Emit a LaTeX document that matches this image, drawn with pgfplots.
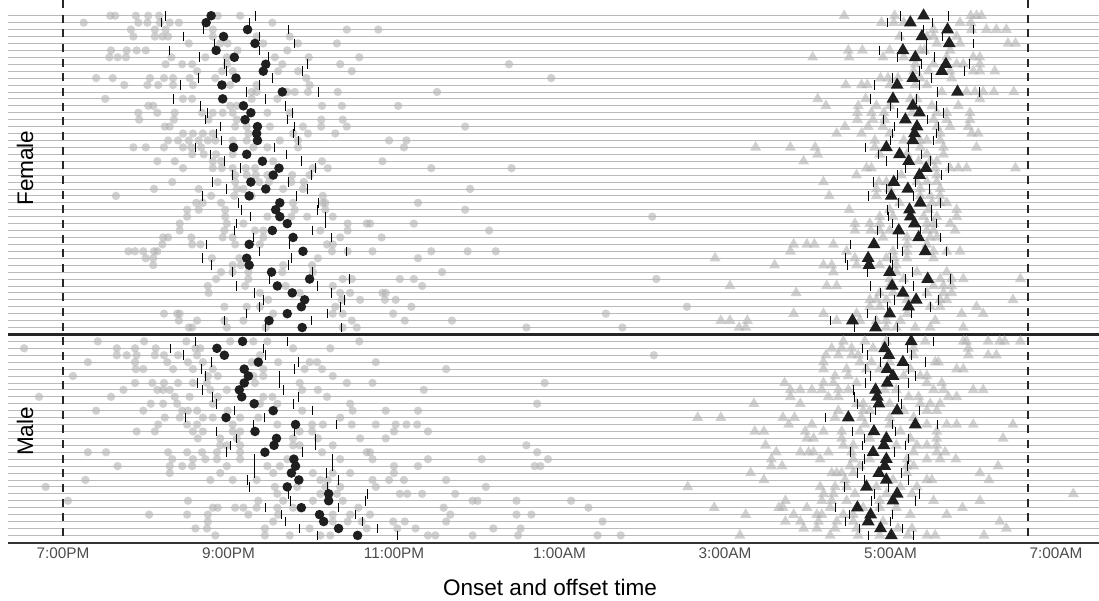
\documentclass[border=0pt]{standalone}
\usepackage{pgfplots}
\pgfplotsset{compat=1.18}
\usepackage{pgfplotstable}
\usepackage{fontspec}
\setmainfont{Liberation Sans}

% per-person summary: onset median + ticks, offset median + ticks
% y = row (female 1-46, male 48-76)
\pgfplotstableread{
y m lo hi M LO HI
1 20.79 20.24 21.33 29.40 29.12 29.70
2 20.73 20.19 21.25 29.24 28.96 29.51
3 21.23 20.70 21.73 29.69 29.40 30.00
4 20.94 20.46 21.38 29.38 29.13 29.63
5 21.32 20.83 21.80 29.71 29.44 30.00
6 20.85 20.29 21.38 29.15 28.87 29.43
7 21.07 20.65 21.48 29.30 29.08 29.53
8 21.45 20.95 21.96 29.67 29.38 29.95
9 21.42 20.98 21.89 29.62 29.35 29.89
10 21.09 20.64 21.53 29.27 29.03 29.50
11 20.92 20.42 21.38 29.08 28.81 29.35
12 21.65 21.22 22.09 29.81 29.57 30.07
13 20.93 20.33 21.45 29.03 28.76 29.32
14 21.18 20.66 21.69 29.27 29.00 29.55
15 21.27 20.74 21.77 29.35 29.08 29.64
16 21.20 20.72 21.71 29.18 28.92 29.45
17 21.35 20.90 21.80 29.32 29.05 29.58
18 21.34 20.86 21.79 29.29 29.02 29.55
19 21.35 20.91 21.84 29.27 29.00 29.52
20 21.06 20.60 21.55 28.95 28.70 29.22
21 21.22 20.78 21.70 29.11 28.86 29.38
22 21.41 20.95 21.88 29.22 28.95 29.48
23 21.61 21.15 22.05 29.43 29.18 29.70
24 21.54 21.05 22.00 29.35 29.08 29.62
25 21.27 20.81 21.73 29.04 28.79 29.30
26 21.45 20.98 21.95 29.21 28.95 29.47
27 21.25 20.68 21.82 29.01 28.74 29.28
28 21.62 21.12 22.09 29.36 29.10 29.60
29 21.57 21.16 22.07 29.23 28.96 29.49
30 21.62 21.27 22.17 29.24 28.98 29.50
31 21.71 21.10 22.17 29.29 29.02 29.56
32 21.53 21.07 22.01 29.10 28.84 29.36
33 21.78 21.30 22.25 29.34 29.08 29.60
34 21.25 20.73 21.74 28.80 28.52 29.08
35 21.90 21.38 22.42 29.42 29.15 29.68
36 21.22 20.68 21.76 28.73 28.46 29.00
37 21.25 20.80 21.72 28.74 28.48 29.02
38 21.52 21.05 22.02 28.99 28.72 29.26
39 21.98 21.50 22.46 29.45 29.18 29.72
40 21.59 21.10 22.08 29.02 28.76 29.28
41 21.77 21.32 22.25 29.15 28.88 29.42
42 21.92 21.42 22.40 29.31 29.05 29.58
43 21.88 21.38 22.35 29.22 28.96 29.48
44 21.71 21.22 22.20 28.99 28.72 29.25
45 21.49 20.95 22.00 28.54 28.28 28.82
46 21.89 21.45 22.37 28.82 28.56 29.09
48 21.17 20.60 21.71 29.25 28.98 29.52
49 20.86 20.30 21.42 28.93 28.66 29.20
50 20.95 20.45 21.45 28.98 28.72 29.25
51 21.36 20.80 21.85 29.15 28.88 29.42
52 21.19 20.67 21.80 28.96 28.70 29.22
53 21.24 20.72 21.62 29.03 28.76 29.30
54 21.19 20.62 21.62 28.96 28.70 29.22
55 21.13 20.68 21.66 28.82 28.55 29.10
56 21.16 20.81 21.84 28.84 28.57 29.10
57 21.31 20.85 21.78 28.86 28.60 29.13
58 21.54 21.07 22.01 29.08 28.82 29.35
59 20.97 20.48 21.44 28.49 28.22 28.76
60 21.81 21.30 22.30 29.30 29.03 29.57
61 21.32 20.85 21.80 28.80 28.54 29.06
62 21.58 21.10 22.05 28.95 28.69 29.22
63 21.55 21.02 22.05 28.92 28.66 29.18
64 21.44 20.97 21.90 28.79 28.52 29.05
65 21.79 21.32 22.26 28.95 28.69 29.22
66 21.81 21.32 22.26 28.93 28.66 29.20
67 21.76 21.31 22.18 28.86 28.60 29.13
68 21.85 21.23 22.33 28.95 28.68 29.22
69 21.71 21.25 22.20 28.71 28.45 28.98
70 22.21 21.72 22.68 29.08 28.81 29.35
71 22.21 21.75 22.65 29.03 28.77 29.30
72 21.88 21.45 22.33 28.60 28.34 28.86
73 22.10 21.64 22.54 28.76 28.50 29.03
74 22.15 21.69 22.62 28.73 28.46 29.00
75 22.33 21.86 22.80 28.88 28.62 29.15
76 22.56 22.07 23.04 29.01 28.74 29.28
}\med

\begin{document}
\begin{tikzpicture}
\path[use as bounding box] (0,0) rectangle (824.25pt,450pt);
\begin{axis}[
    at={(6pt,42.75pt)}, anchor=south west,
    scale only axis, width=818.25pt, height=407.25pt,
    xmin=18.335, xmax=31.52, ymin=-1.27, ymax=77.1, y dir=reverse,
    clip=false,
    axis line style={draw=none},
    major tick length=0pt,
    xtick={19,21,23,25,27,29,31},
    xticklabels={7:00PM,9:00PM,11:00PM,1:00AM,3:00AM,5:00AM,7:00AM},
    xticklabel style={font=\fontsize{11.5}{13}\selectfont, text=black!70},
    ytick={1,...,46,48,49,...,76}, yticklabels={},
    ymajorgrids, grid style={black!27, line width=0.6pt},
]
% nightly onsets (grey dots)
\addplot[only marks, mark=*, mark size=3.15pt, mark options={fill=black!30, fill opacity=0.6, draw opacity=0}] coordinates {
(19.57,1)(19.63,1)(19.88,1)(20.03,1)(20.16,1)(20.87,1)(21.14,1)
(19.25,2)(19.91,2)(20.02,2)(20.17,2)(20.29,2)(20.40,2)(21.53,2)
(19.82,3)(20.11,3)(20.24,3)(20.81,3)(22.43,3)(22.81,3)
(19.85,4)(20.11,4)(20.20,4)(20.27,4)(20.81,4)(21.34,4)(21.74,4)
(20.52,5)(20.90,5)(20.99,5)(21.42,5)(21.84,5)(22.31,5)
(19.58,6)(19.77,6)(19.89,6)(20.00,6)(21.11,6)(21.71,6)
(19.56,7)(19.66,7)(19.76,7)(20.31,7)(20.72,7)(20.98,7)(21.56,7)(21.97,7)(22.58,7)
(20.24,8)(20.44,8)(20.56,8)(20.98,8)(21.65,8)(22.35,8)(24.39,8)
(20.62,9)(20.92,9)(21.05,9)(21.60,9)(21.84,9)(22.49,9)
(19.40,10)(19.60,10)(20.05,10)(20.22,10)(20.33,10)(20.53,10)(20.84,10)(21.94,10)(24.90,10)
(19.74,11)(20.02,11)(20.15,11)(20.33,11)(20.57,11)(21.02,11)(21.34,11)(21.98,11)
(21.28,12)(21.34,12)(21.71,12)(21.80,12)(21.96,12)(22.32,12)(23.52,12)
(19.51,13)(20.45,13)(20.56,13)(21.28,13)(21.59,13)
(20.03,14)(20.09,14)(21.02,14)(21.10,14)(22.13,14)(22.37,14)(23.05,14)
(19.91,15)(20.14,15)(20.35,15)(20.68,15)(20.81,15)(20.93,15)(21.05,15)(21.47,15)(21.74,15)
(19.92,16)(20.34,16)(20.76,16)(21.10,16)(22.12,16)(22.38,16)
(20.23,17)(20.29,17)(21.08,17)(21.22,17)(21.50,17)(21.90,17)(22.12,17)(22.43,17)(23.86,17)
(20.45,18)(20.57,18)(20.69,18)(20.81,18)(21.24,18)(21.78,18)(21.96,18)(22.29,18)
(20.27,19)(20.39,19)(20.52,19)(20.64,19)(20.75,19)(20.84,19)(21.05,19)(21.22,19)(21.62,19)(21.84,19)(22.94,19)(23.15,19)
(19.85,20)(20.00,20)(20.22,20)(20.45,20)(20.55,20)(20.67,20)(21.30,20)(21.47,20)(21.84,20)(23.12,20)
(20.56,21)(20.70,21)(20.85,21)(21.05,21)
(20.14,22)(20.35,22)(20.81,22)(20.91,22)(21.54,22)(22.13,22)(22.86,22)
(20.45,23)(20.81,23)(20.92,23)(21.05,23)(21.21,23)(21.32,23)(22.02,23)(22.20,23)(23.45,23)(24.42,23)
(21.08,24)(21.22,24)(21.33,24)(21.47,24)(21.77,24)(21.98,24)
(20.32,25)(20.87,25)(21.08,25)(21.37,25)(21.49,25)(21.76,25)(21.91,25)
(20.10,26)(20.64,26)(21.10,26)(21.18,26)(21.66,26)(21.90,26)(23.92,26)
(19.64,27)(20.79,27)(21.07,27)(21.28,27)(22.14,27)
(20.61,28)(20.69,28)(20.91,28)(21.78,28)(22.14,28)(22.17,28)(23.29,28)
(20.50,29)(20.64,29)(20.96,29)(21.80,29)(22.17,29)(23.86,29)
(20.50,30)(20.96,30)(21.47,30)(21.76,30)(21.95,30)(22.26,30)(26.12,30)
(20.41,31)(20.98,31)(21.18,31)(22.44,31)(22.67,31)(22.71,31)(23.24,31)
(20.41,32)(20.95,32)(21.32,32)(21.42,32)(22.11,32)(22.44,32)(24.15,32)
(20.21,33)(20.27,33)(20.55,33)(20.93,33)(21.05,33)(21.42,33)(22.35,33)(22.85,33)
(20.20,34)(20.56,34)(20.66,34)(21.08,34)(21.38,34)(22.19,34)(22.26,34)
(19.79,35)(19.87,35)(19.97,35)(20.10,35)(20.14,35)(22.25,35)(22.44,35)(22.74,35)(23.45,35)(23.89,35)(24.23,35)
(20.00,36)(20.09,36)(20.80,36)(21.13,36)(22.08,36)(23.29,36)
(20.09,37)(21.05,37)(21.15,37)(21.66,37)(22.01,37)
(20.91,38)(21.05,38)(21.24,38)(21.65,38)(22.02,38)(23.58,38)
(20.85,39)(21.24,39)(22.38,39)(22.49,39)(23.07,39)(23.24,39)(26.17,39)
(20.75,40)(21.20,40)(21.69,40)(22.26,40)(23.34,40)
(20.76,41)(21.38,41)(21.86,41)(22.35,41)(22.47,41)(22.86,41)(22.90,41)
(21.48,42)(22.37,42)(22.59,42)(22.89,42)(23.02,42)
(20.95,43)(21.22,43)(21.38,43)(22.29,43)(23.21,43)(26.54,43)
(20.22,44)(20.38,44)(20.41,44)(21.54,44)(22.26,44)(22.38,44)(22.99,44)(25.56,44)
(20.40,45)(20.62,45)(20.95,45)(21.18,45)(22.49,45)(23.13,45)(23.70,45)
(20.52,46)(20.56,46)(20.98,46)(21.45,46)(22.38,46)(22.55,46)(24.60,46)(25.76,46)
(19.42,48)(19.98,48)(20.49,48)(21.02,48)(21.30,48)(21.47,48)(22.58,48)
(18.53,49)(19.65,49)(19.87,49)(20.12,49)(20.60,49)(20.66,49)(21.78,49)(22.23,49)
(19.65,50)(19.77,50)(19.89,50)(20.11,50)(20.22,50)(20.39,50)(20.62,50)(21.38,50)(26.14,50)
(19.30,51)(19.87,51)(20.26,51)(20.51,51)(20.69,51)(21.28,51)(21.60,51)(21.98,51)(22.07,51)(22.78,51)
(19.88,52)(19.97,52)(20.33,52)(20.57,52)(20.81,52)(21.42,52)(21.92,52)(22.13,52)(23.63,52)
(19.12,53)(20.75,53)(20.87,53)(21.30,53)(21.42,53)(22.26,53)
(19.87,54)(20.08,54)(20.22,54)(20.39,54)(20.57,54)(20.74,54)(21.32,54)(21.86,54)(22.43,54)(22.74,54)(24.82,54)
(19.73,55)(20.14,55)(20.21,55)(20.29,55)(20.78,55)(20.98,55)(21.89,55)(22.08,55)(23.36,55)
(18.71,56)(19.58,56)(20.35,56)(20.53,56)(20.87,56)(21.42,56)(21.53,56)(22.19,56)
(20.06,57)(20.21,57)(20.38,57)(20.81,57)(21.38,57)(21.59,57)(22.47,57)(24.73,57)
(19.40,58)(19.97,58)(20.44,58)(20.51,58)(20.62,58)(20.99,58)(21.89,58)(22.50,58)(22.90,58)(23.29,58)
(20.23,59)(20.41,59)(20.69,59)(20.81,59)(21.14,59)(21.36,59)(22.35,59)
(20.15,60)(20.50,60)(20.62,60)(21.05,60)(21.59,60)(22.01,60)(22.14,60)(22.49,60)(22.78,60)(23.02,60)(23.15,60)(23.28,60)
(19.89,61)(20.11,61)(20.57,61)(20.69,61)(21.05,61)(21.14,61)(21.86,61)(22.01,61)(23.00,61)(23.41,61)
(20.63,62)(20.90,62)(21.10,62)(21.78,62)(22.08,62)(22.59,62)(22.90,62)
(20.90,63)(20.98,63)(21.14,63)(21.78,63)(21.86,63)(22.26,63)(24.60,63)
(19.30,64)(19.52,64)(20.27,64)(20.50,64)(20.68,64)(20.86,64)(21.14,64)(22.13,64)(22.67,64)(22.71,64)(24.73,64)
(20.32,65)(20.57,65)(20.72,65)(20.86,65)(21.14,65)(21.71,65)(22.35,65)(22.74,65)(23.41,65)(24.06,65)(24.86,65)
(19.66,66)(20.29,66)(20.44,66)(20.56,66)(20.98,66)(21.47,66)(21.62,66)(23.00,66)(23.29,66)(24.70,66)(24.77,66)
(20.29,67)(20.90,67)(21.54,67)(22.02,67)(22.26,67)(22.47,67)(23.00,67)
(19.27,68)(20.78,68)(21.05,68)(21.34,68)(22.11,68)(22.20,68)(22.74,68)(22.94,68)(23.12,68)(23.63,68)
(18.79,69)(21.56,69)(21.83,69)(22.17,69)(22.35,69)(22.78,69)(24.11,69)
(21.59,70)(22.11,70)(22.31,70)(23.07,70)(23.16,70)(23.34,70)(23.74,70)
(19.06,71)(20.51,71)(21.36,71)(21.66,71)(22.02,71)(22.38,71)(23.95,71)(24.01,71)(24.48,71)(25.14,71)
(20.81,72)(20.87,72)(21.08,72)(21.18,72)(21.34,72)(21.59,72)(21.78,72)(22.57,72)(23.60,72)(25.35,72)
(20.04,73)(20.50,73)(20.75,73)(21.24,73)(21.60,73)(22.26,73)(22.47,73)(22.71,73)(23.68,73)(24.48,73)(24.66,73)
(20.75,74)(21.54,74)(22.26,74)(22.44,74)(22.61,74)(22.99,74)(23.13,74)(23.63,74)(25.52,74)
(20.60,75)(20.74,75)(21.44,75)(21.98,75)(22.67,75)(23.04,75)(23.26,75)(24.20,75)(24.53,75)
(20.84,76)(21.44,76)(21.74,76)(22.11,76)(22.23,76)(23.41,76)(23.50,76)(23.95,76)(24.50,76)(25.46,76)(25.74,76)
};
% nightly offsets (grey triangles)
\addplot[only marks, mark=triangle*, mark size=4.8pt, mark options={fill=black!30, fill opacity=0.6, draw opacity=0}] coordinates {
(28.44,1)(29.05,1)(29.97,1)(30.04,1)(30.10,1)
(28.89,2)(29.04,2)(29.16,2)(29.84,2)(29.97,2)
(29.52,3)(29.98,3)(30.16,3)(30.28,3)(30.40,3)
(29.11,4)(29.44,4)(29.52,4)(29.80,4)
(29.56,5)(29.84,5)(30.42,5)(30.51,5)
(28.49,6)(28.66,6)(28.99,6)(29.36,6)(29.41,6)(29.72,6)
(28.06,7)(28.50,7)(28.91,7)(29.16,7)(29.68,7)(30.00,7)(30.08,7)
(29.30,8)(29.52,8)(29.80,8)(29.88,8)(30.08,8)
(29.28,9)(29.46,9)(29.72,9)(30.00,9)(30.08,9)(30.26,9)
(28.88,10)(28.97,10)(29.09,10)(29.36,10)(29.74,10)
(28.46,11)(28.65,11)(28.72,11)(28.99,11)(29.30,11)(29.44,11)
(29.62,12)(29.92,12)(30.02,12)(30.12,12)(30.25,12)(30.49,12)
(28.12,13)(28.70,13)(29.24,13)(29.32,13)(30.08,13)
(28.22,14)(28.61,14)(28.83,14)(28.99,14)(29.50,14)(29.82,14)
(28.60,15)(28.77,15)(28.92,15)(29.26,15)(29.56,15)(29.68,15)(29.96,15)
(28.60,16)(28.79,16)(28.93,16)(29.52,16)(29.68,16)(29.96,16)
(28.45,17)(28.73,17)(28.91,17)(29.56,17)(29.72,17)(29.94,17)
(28.35,18)(28.65,18)(28.99,18)(29.60,18)(29.98,18)(30.06,18)
(28.81,19)(29.16,19)(29.36,19)(29.44,19)(29.60,19)
(27.37,20)(27.79,20)(28.09,20)(28.81,20)(29.36,20)(29.64,20)(30.04,20)
(28.12,21)(28.87,21)(29.20,21)(29.44,21)(29.64,21)
(27.95,22)(29.34,22)(29.48,22)(29.56,22)
(28.71,23)(28.77,23)(29.54,23)(29.72,23)(29.82,23)(29.92,23)(30.51,23)
(28.59,24)(29.13,24)(29.56,24)
(28.19,25)(28.86,25)(28.95,25)(29.32,25)(29.44,25)(29.56,25)
(28.83,26)(28.99,26)(29.36,26)(29.60,26)
(28.26,27)(28.83,27)(29.36,27)(29.48,27)(29.60,27)
(29.11,28)(29.50,28)(29.60,28)(29.68,28)
(28.50,29)(28.99,29)(29.46,29)(29.80,29)
(28.87,30)(29.03,30)(29.40,30)(29.56,30)(29.80,30)
(28.57,31)(28.75,31)(28.87,31)(29.44,31)(29.52,31)(29.72,31)
(28.57,32)(28.76,32)(28.87,32)(28.99,32)(29.44,32)(29.52,32)(29.78,32)
(28.91,33)(29.20,33)(29.48,33)(29.56,33)
(27.83,34)(27.99,34)(28.08,34)(28.31,34)(29.20,34)(29.44,34)
(27.79,35)(28.47,35)(29.03,35)(29.20,35)(29.52,35)(29.68,35)(29.84,35)
(26.88,36)(28.57,36)(28.95,36)(29.05,36)(29.20,36)(29.52,36)
(27.60,37)(28.19,37)(28.29,37)(28.59,37)(28.87,37)(29.07,37)
(28.31,38)(29.07,38)(29.32,38)(29.68,38)
(28.99,39)(29.16,39)(29.60,39)(29.74,39)(29.88,39)(30.57,39)
(27.06,40)(28.23,40)(28.35,40)(28.99,40)(29.52,40)(29.64,40)(29.74,40)
(27.86,41)(28.87,41)(29.03,41)(29.44,41)(29.64,41)(29.74,41)
(28.75,42)(28.83,42)(28.95,42)(29.20,42)(29.60,42)(29.68,42)(30.48,42)
(28.75,43)(28.87,43)(29.48,43)(29.60,43)(30.04,43)
(27.83,44)(28.19,44)(28.59,44)(29.20,44)(29.86,44)(30.12,44)
(26.95,45)(27.06,45)(27.27,45)(28.35,45)(28.63,45)(28.83,45)(28.95,45)(29.12,45)(29.54,45)
(27.17,46)(27.25,46)(28.95,46)(29.07,46)(29.30,46)(29.48,46)(29.88,46)
(28.43,48)(28.69,48)(28.95,48)(29.42,48)(29.88,48)(29.92,48)(30.18,48)(30.32,48)(30.38,48)(30.57,48)
(28.29,49)(28.41,49)(28.53,49)(28.79,49)(29.28,49)(29.94,49)
(28.22,50)(28.37,50)(28.53,50)(28.61,50)(29.28,50)(29.94,50)(30.18,50)(30.28,50)
(28.19,51)(28.63,51)(28.77,51)(28.99,51)(29.54,51)(29.58,51)
(28.19,52)(28.47,52)(28.71,52)(28.87,52)(29.24,52)(29.80,52)(29.88,52)
(28.33,53)(28.49,53)(29.16,53)(29.36,53)(29.44,53)
(27.72,54)(28.19,54)(28.31,54)(28.59,54)(29.44,54)(29.62,54)
(27.79,55)(27.91,55)(28.05,55)(28.17,55)(28.37,55)(28.49,55)(28.93,55)(29.07,55)(29.52,55)(29.64,55)(30.00,55)(30.12,55)
(27.79,56)(28.25,56)(28.37,56)(29.22,56)(29.34,56)(29.70,56)(29.80,56)
(27.35,57)(27.91,57)(28.59,57)(28.67,57)(28.99,57)(29.36,57)(29.48,57)(29.60,57)
(28.37,58)(28.67,58)(28.75,58)(29.16,58)(29.44,58)(29.56,58)
(26.67,59)(26.95,59)(27.70,59)(27.84,59)(28.33,59)(28.65,59)(28.99,59)(29.28,59)
(27.77,60)(28.05,60)(28.69,60)(28.99,60)(29.44,60)(29.68,60)(29.80,60)(30.00,60)(30.48,60)
(27.36,61)(27.47,61)(27.97,61)(28.19,61)(28.41,61)(28.63,61)(29.12,61)(29.56,61)
(27.99,62)(28.07,62)(28.41,62)(28.75,62)(29.24,62)(29.56,62)(30.36,62)
(27.49,63)(28.43,63)(28.55,63)(29.07,63)(29.32,63)(29.44,63)(29.56,63)
(27.62,64)(27.91,64)(28.01,64)(28.07,64)(28.25,64)(28.53,64)(29.28,64)(29.56,64)(29.66,64)
(27.56,65)(28.15,65)(28.55,65)(28.75,65)(29.20,65)(29.44,65)(29.60,65)(29.79,65)
(27.56,66)(27.69,66)(28.51,66)(28.63,66)(29.20,66)(29.28,66)(30.30,66)
(27.31,67)(28.29,67)(28.35,67)(28.41,67)(28.55,67)(29.20,67)(30.08,67)
(27.47,68)(28.45,68)(29.03,68)(29.44,68)(29.50,68)(30.19,68)
(26.55,69)(28.15,69)(28.33,69)(28.47,69)(28.83,69)(29.12,69)(29.32,69)
(28.19,70)(28.31,70)(28.57,70)(28.95,70)(29.26,70)(31.21,70)
(27.73,71)(28.17,71)(28.29,71)(28.47,71)(28.87,71)(29.52,71)(30.08,71)
(26.87,72)(27.65,72)(27.70,72)(27.99,72)(28.27,72)(28.67,72)(28.87,72)(29.07,72)(29.87,72)
(27.25,73)(27.83,73)(28.11,73)(28.17,73)(28.43,73)(28.55,73)(29.24,73)(29.68,73)
(27.73,74)(27.91,74)(28.13,74)(28.35,74)(28.55,74)(28.91,74)(30.32,74)
(27.95,75)(28.11,75)(28.33,75)(28.59,75)(29.09,75)(29.26,75)(30.40,75)
(27.18,76)(28.27,76)(28.61,76)(28.87,76)(29.21,76)(29.44,76)(29.54,76)(30.13,76)
};
% spread ticks
\addplot[only marks, mark=|, mark size=3.6pt, mark options={line width=0.75pt, black}] table[x=lo, y=y] {\med};
\addplot[only marks, mark=|, mark size=3.6pt, mark options={line width=0.75pt, black}] table[x=hi, y=y] {\med};
\addplot[only marks, mark=|, mark size=3.6pt, mark options={line width=0.75pt, black}] table[x=LO, y=y] {\med};
\addplot[only marks, mark=|, mark size=3.6pt, mark options={line width=0.75pt, black}] table[x=HI, y=y] {\med};
% medians
\addplot[only marks, mark=*, mark size=3.6pt, mark options={fill=black!88, draw opacity=0}] table[x=m, y=y] {\med};
\addplot[only marks, mark=triangle*, mark size=5.6pt, mark options={fill=black!88, draw opacity=0}] table[x=M, y=y] {\med};

% reference lines and panel separators
\draw[black!85, line width=1.5pt, dash pattern=on 6pt off 5pt] (axis cs:19,-1.27) -- (axis cs:19,77.1);
\draw[black!85, line width=1.5pt, dash pattern=on 6pt off 5pt] (axis cs:30.667,-1.27) -- (axis cs:30.667,77.1);
\draw[black!85, line width=2.3pt] (axis cs:18.335,47.05) -- (axis cs:31.52,47.05);
\draw[black!80, line width=2.2pt] (axis cs:18.335,77.1) -- (axis cs:31.52,77.1);
\node[rotate=90, font=\fontsize{16.9}{20}\selectfont] at (axis cs:18.54,23) {Female};
\node[rotate=90, font=\fontsize{16.9}{20}\selectfont] at (axis cs:18.54,61) {Male};
\end{axis}
\node[font=\fontsize{16.9}{20}\selectfont] at (412.5pt,9.5pt) {Onset and offset time};
\end{tikzpicture}
\end{document}
